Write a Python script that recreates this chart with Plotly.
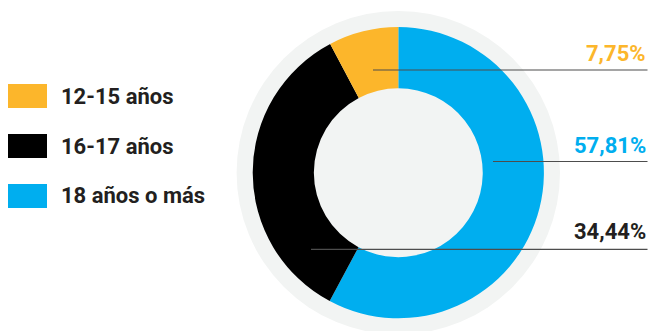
import plotly.graph_objects as go

# Distribución por grupo de edad
categorias = ["18 años o más", "16-17 años", "12-15 años"]
porcentajes = [57.81, 34.44, 7.75]
colores = ["#00aeef", "#000000", "#fcb62b"]
etiquetas = ["57,81%", "34,44%", "7,75%"]
colores_texto = ["#00aeef", "#231f20", "#fcb62b"]

# Orden de la leyenda (de arriba a abajo)
leyenda = ["12-15 años", "16-17 años", "18 años o más"]
colores_leyenda = ["#fcb62b", "#000000", "#00aeef"]

W, H = 651, 331
FONT = "Roboto"
GRIS = "#f2f4f3"


def px(x):
    return x / W


def py(y):
    return 1 - y / H


cx, cy = 398.3, 172.7   # centro del anillo (px)
r_out = 145.6           # radio exterior del anillo
r_bg = 161.7            # radio del círculo gris de fondo

fig = go.Figure(
    go.Pie(
        labels=categorias,
        values=porcentajes,
        marker=dict(colors=colores, line=dict(width=0)),
        hole=0.58,
        sort=False,
        direction="clockwise",
        rotation=0,
        textinfo="none",
        hoverinfo="label+percent",
        showlegend=False,
        domain=dict(
            x=[px(cx - r_out), px(cx + r_out)],
            y=[py(cy + r_out), py(cy - r_out)],
        ),
    )
)

shapes = [
    dict(
        type="circle", xref="paper", yref="paper", layer="below",
        x0=px(cx - r_bg), x1=px(cx + r_bg),
        y0=py(cy + r_bg), y1=py(cy - r_bg),
        fillcolor=GRIS, line=dict(width=0),
    )
]
annotations = []

# Líneas guía y valores a la derecha
guias = {  # índice -> (x inicial, y de la línea, y del texto)
    2: (373, 70, 54),
    0: (493, 161.5, 145.5),
    1: (311, 249.3, 231),
}
for i, (x0, yl, yt) in guias.items():
    shapes.append(dict(
        type="line", xref="paper", yref="paper", layer="above",
        x0=px(x0), x1=px(647.5), y0=py(yl), y1=py(yl),
        line=dict(color="#4d4d4d", width=1.2),
    ))
    annotations.append(dict(
        xref="paper", yref="paper", x=px(648), y=py(yt),
        xanchor="right", yanchor="middle", showarrow=False,
        text=etiquetas[i],
        font=dict(family=FONT, size=22, color=colores_texto[i], weight=700),
    ))

# Leyenda dibujada a mano
for k, (nombre, col) in enumerate(zip(leyenda, colores_leyenda)):
    yc = 96 + 50 * k
    shapes.append(dict(
        type="rect", xref="paper", yref="paper",
        x0=px(8), x1=px(47), y0=py(yc + 12), y1=py(yc - 12),
        fillcolor=col, line=dict(width=0),
    ))
    annotations.append(dict(
        xref="paper", yref="paper", x=px(59), y=py(yc),
        xanchor="left", yanchor="middle", showarrow=False,
        text=nombre,
        font=dict(family=FONT, size=22, color="#231f20", weight=700),
    ))

fig.update_layout(
    width=W, height=H,
    margin=dict(l=0, r=0, t=0, b=0),
    paper_bgcolor="white",
    plot_bgcolor="white",
    shapes=shapes,
    annotations=annotations,
)

fig.write_html("out.html")
